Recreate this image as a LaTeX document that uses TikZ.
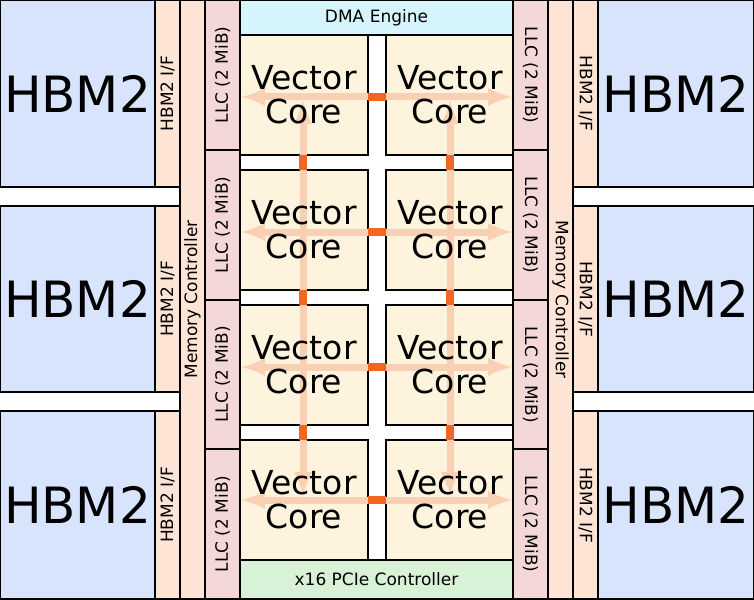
\documentclass[tikz,border=0pt]{standalone}
\usepackage{fontspec}
\setmainfont{DejaVu Sans}
\begin{document}
\begin{tikzpicture}[x=1pt,y=-1pt,
  blk/.style={draw=black,line width=1.2pt},
  hbm/.style={blk,fill=hbmc},
  ifc/.style={blk,fill=ifcc},
  llc/.style={blk,fill=llcc},
  core/.style={blk,fill=corec},
  lite/.style={draw=orange!35,line width=7pt},
  dark/.style={fill=orange!85!red},
  big/.style={font=\fontsize{50}{52}\selectfont},
  vc/.style={font=\fontsize{33}{34}\selectfont,align=center},
  sm/.style={font=\fontsize{17}{19}\selectfont}]
\definecolor{hbmc}{HTML}{D8E4FB}
\definecolor{ifcc}{HTML}{FDE4D4}
\definecolor{llcc}{HTML}{F4D8D8}
\definecolor{dmac}{HTML}{D6F4FC}
\definecolor{corec}{HTML}{FEF3DD}
\definecolor{pcic}{HTML}{D8F2D8}
\definecolor{orange}{HTML}{F07828}
\useasboundingbox (0,0) rectangle (754,599);
\fill[white] (0,0) rectangle (754,599);
% HBM and I/F
\foreach \i/\a/\b in {1/0/187,2/206/392,3/411/599}{
  \draw[hbm] (0,\a) rectangle node[big]{HBM2} (155,\b);
  \draw[hbm] (598,\a) rectangle node[big]{HBM2} (754,\b);
  \draw[ifc] (155,\a) rectangle node[sm,rotate=90]{HBM2 I/F} (180,\b);
  \draw[ifc] (573,\a) rectangle node[sm,rotate=-90]{HBM2 I/F} (598,\b);
}
\draw[ifc] (180,0) rectangle node[sm,rotate=90]{Memory Controller} (205,599);
\draw[ifc] (548,0) rectangle node[sm,rotate=-90]{Memory Controller} (573,599);
\foreach \a/\b in {0/150,150/300,300/449,449/599}{
  \draw[llc] (205,\a) rectangle node[sm,rotate=90]{LLC (2 MiB)} (240,\b);
  \draw[llc] (513,\a) rectangle node[sm,rotate=-90]{LLC (2 MiB)} (548,\b);
}
\draw[blk,fill=dmac] (240,0) rectangle node[sm]{DMA Engine} (513,35);
\draw[blk,fill=pcic] (240,560) rectangle node[sm]{x16 PCIe Controller} (513,599);
% cores
\foreach \r/\a/\b in {1/35/155,2/170/290,3/305/425,4/440/560}{
  \draw[core] (240,\a) rectangle (368,\b);
  \draw[core] (386,\a) rectangle (513,\b);
}
% mesh
\foreach \y in {97,232,367,500}{
  \draw[lite,-latex] (376,\y) -- (241,\y);
  \draw[lite,-latex] (376,\y) -- (512,\y);
  \fill[dark] (368,\y-4) rectangle (386,\y+4);
}
\foreach \x in {303,450}{
  \draw[lite,latex-latex] (\x,100) -- (\x,496);
  \foreach \y in {155,290,425}{ \fill[dark] (\x-4,\y) rectangle (\x+4,\y+15); }
}
\foreach \r/\a/\b in {1/35/155,2/170/290,3/305/425,4/440/560}{
  \node[vc] (l\r) at (304,{(\a+\b)/2}) {Vector\\Core};
  \node[vc] (r\r) at (450,{(\a+\b)/2}) {Vector\\Core};
}
\end{tikzpicture}
\end{document}
